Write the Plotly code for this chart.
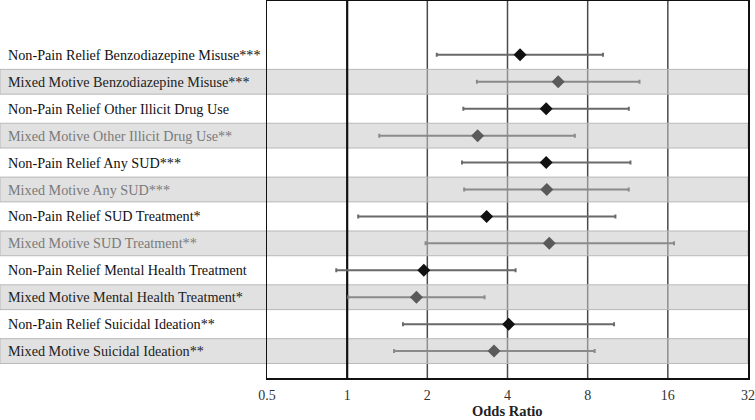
import plotly.graph_objects as go

labels = [
    "Non-Pain Relief Benzodiazepine Misuse***",
    "Mixed Motive Benzodiazepine Misuse***",
    "Non-Pain Relief Other Illicit Drug Use",
    "Mixed Motive Other Illicit Drug Use**",
    "Non-Pain Relief Any SUD***",
    "Mixed Motive Any SUD***",
    "Non-Pain Relief SUD Treatment*",
    "Mixed Motive SUD Treatment**",
    "Non-Pain Relief Mental Health Treatment",
    "Mixed Motive Mental Health Treatment*",
    "Non-Pain Relief Suicidal Ideation**",
    "Mixed Motive Suicidal Ideation**",
]
odds_ratio = [4.46, 6.20, 5.59, 3.09, 5.59, 5.62, 3.34, 5.74, 1.94, 1.82, 4.04, 3.56]
ci_low = [2.17, 3.07, 2.73, 1.32, 2.70, 2.75, 1.10, 1.97, 0.91, 1.01, 1.62, 1.50]
ci_high = [9.13, 12.52, 11.42, 7.16, 11.58, 11.41, 10.17, 16.88, 4.29, 3.28, 10.05, 8.50]
label_colors = ["#111", "#222", "#111", "#7a7a7a", "#111", "#7a7a7a",
                "#111", "#7a7a7a", "#111", "#222", "#111", "#222"]
tick_vals = [0.5, 1, 2, 4, 8, 16, 32]
tick_text = ["0.5", "1", "2", "4", "8", "16", "32"]

rows = list(range(1, len(labels) + 1))
W, H = 755, 420
ml, mr, mt, mb = 267, 7, 1, 42
pw = W - ml - mr
ph = H - mt - mb

fig = go.Figure()

shapes = []
# grid lines
for v in [2, 4, 8, 16]:
    shapes.append(dict(type="line", xref="x", yref="paper", x0=v, x1=v, y0=0, y1=1,
                       line=dict(color="#4a4a4a", width=1.5), layer="below"))
# shaded bands for Mixed Motive rows
for i, lab in enumerate(labels):
    if lab.startswith("Mixed"):
        shapes.append(dict(type="rect", xref="paper", yref="y",
                           x0=-ml / pw, x1=1, y0=rows[i] - 0.46, y1=rows[i] + 0.46,
                           fillcolor="rgba(200,200,200,0.55)",
                           line=dict(color="#b8b8b8", width=1), layer="below"))
# reference line at 1
shapes.append(dict(type="line", xref="x", yref="paper", x0=1, x1=1, y0=0, y1=1,
                   line=dict(color="#111", width=2.2), layer="between"))

groups = [("Non-Pain", "#111111", "#6a6a6a"), ("Mixed", "#5a5a5a", "#8a8a8a")]
for key, mcol, ecol in groups:
    idx = [i for i, l in enumerate(labels) if l.startswith(key)]
    fig.add_trace(go.Scatter(
        x=[odds_ratio[i] for i in idx],
        y=[rows[i] for i in idx],
        mode="markers",
        marker=dict(symbol="diamond", size=10, color=mcol),
        error_x=dict(type="data", symmetric=False,
                     array=[ci_high[i] - odds_ratio[i] for i in idx],
                     arrayminus=[odds_ratio[i] - ci_low[i] for i in idx],
                     color=ecol, thickness=2, width=2),
        showlegend=False, hoverinfo="skip",
    ))

annotations = []
for i, lab in enumerate(labels):
    annotations.append(dict(text=lab, xref="paper", yref="y", x=(6 - ml) / pw, y=rows[i],
                            xanchor="left", yanchor="middle", showarrow=False,
                            font=dict(family="Liberation Serif", size=14.2, color=label_colors[i])))
annotations.append(dict(text="<b>Odds Ratio</b>", xref="paper", yref="paper",
                        x=0.5, y=-(420 - (mt + ph)) / ph, xanchor="center", yanchor="bottom",
                        showarrow=False, borderpad=0,
                        font=dict(family="Liberation Serif", size=14.5, color="#222")))

fig.update_layout(
    width=W, height=H,
    margin=dict(l=ml, r=mr, t=mt, b=mb, autoexpand=False),
    paper_bgcolor="white", plot_bgcolor="white",
    shapes=shapes, annotations=annotations,
    xaxis=dict(type="log", range=[-0.30103, 1.50515], tickvals=tick_vals, ticktext=tick_text,
               showgrid=False, zeroline=False, showline=True, mirror=True,
               linecolor="#111", linewidth=1.5, ticks="outside", ticklen=4,
               tickcolor="rgba(0,0,0,0)", automargin=False,
               tickfont=dict(family="Liberation Serif", size=14, color="#333")),
    yaxis=dict(range=[13, -1], showgrid=False, zeroline=False, showticklabels=False,
               showline=True, mirror=True, linecolor="#111", linewidth=1.5, ticks=""),
)

fig.write_html("out.html", config={"displayModeBar": False, "staticPlot": True},
               post_script="document.body.style.margin='0';document.body.style.overflow='hidden';")
